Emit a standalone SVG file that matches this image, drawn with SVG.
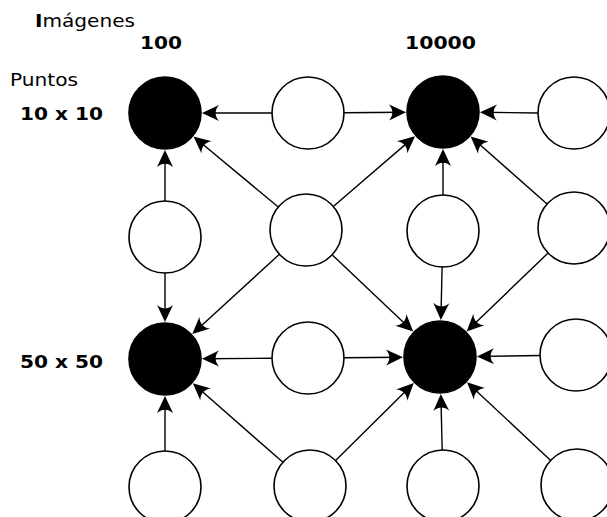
<svg xmlns="http://www.w3.org/2000/svg" width="607" height="517" viewBox="0 0 607 517">
<style>
  text { font-family: "DejaVu Sans", "Liberation Sans", sans-serif; font-size: 17.5px; fill: #000; }
  .b { font-weight: bold; }
  .white { fill: #fff; stroke: #000; stroke-width: 1.6; }
  .black { fill: #000; stroke: #000; stroke-width: 1.6; }
  .edge { stroke: #000; stroke-width: 1.4; fill: none; marker-end: url(#arr); }
</style>
<defs>
  <marker id="arr" markerUnits="userSpaceOnUse" orient="auto" refX="-3" refY="0" markerWidth="20" markerHeight="20" overflow="visible">
    <path d="M0,0 L-17,-8 C-12.5,-3 -12.5,3 -17,8 Z" fill="#000"/>
  </marker>
</defs>
<rect width="607" height="517" fill="#fff"/>
<g id="labels">
  <text x="35" y="27" textLength="100" lengthAdjust="spacingAndGlyphs"><tspan class="b">I</tspan>mágenes</text>
  <text class="b" x="140" y="49" textLength="42" lengthAdjust="spacingAndGlyphs">100</text>
  <text class="b" x="405" y="49" textLength="71" lengthAdjust="spacingAndGlyphs">10000</text>
  <text x="10" y="86" textLength="68" lengthAdjust="spacingAndGlyphs">Puntos</text>
  <text class="b" x="20" y="120" textLength="83" lengthAdjust="spacingAndGlyphs">10 x 10</text>
  <text class="b" x="20" y="368" textLength="83" lengthAdjust="spacingAndGlyphs">50 x 50</text>
</g>
<g id="connectors">
  <line class="edge" x1="272" y1="113" x2="205" y2="113"/>
  <line class="edge" x1="344" y1="112.7" x2="403" y2="112.3"/>
  <line class="edge" x1="538" y1="113" x2="483" y2="112.3"/>
  <line class="edge" x1="165" y1="201" x2="165" y2="153"/>
  <line class="edge" x1="165" y1="273" x2="165" y2="319"/>
  <line class="edge" x1="278.3" y1="207" x2="195.8" y2="138.5"/>
  <line class="edge" x1="333.3" y1="206.5" x2="412.7" y2="138.1"/>
  <line class="edge" x1="279.4" y1="254.3" x2="194.5" y2="332"/>
  <line class="edge" x1="332.1" y1="254.8" x2="411" y2="329.5"/>
  <line class="edge" x1="443" y1="195" x2="443" y2="152"/>
  <line class="edge" x1="442.1" y1="267" x2="440.95" y2="317"/>
  <line class="edge" x1="547.1" y1="204.1" x2="472.9" y2="138.5"/>
  <line class="edge" x1="548.1" y1="253" x2="468.8" y2="329.3"/>
  <line class="edge" x1="272" y1="358.3" x2="205" y2="358.7"/>
  <line class="edge" x1="344" y1="357.7" x2="400" y2="357.3"/>
  <line class="edge" x1="540" y1="355.5" x2="480" y2="356.4"/>
  <line class="edge" x1="165" y1="451" x2="165" y2="399"/>
  <line class="edge" x1="282.9" y1="462.3" x2="195.1" y2="385.3"/>
  <line class="edge" x1="335.6" y1="460.6" x2="411.6" y2="385.2"/>
  <line class="edge" x1="442.2" y1="450" x2="440.9" y2="397"/>
  <line class="edge" x1="550.7" y1="460.4" x2="469.2" y2="384.3"/>
</g>
<g id="A"><circle class="black" cx="165" cy="113" r="36"/></g>
<g id="B"><circle class="black" cx="443" cy="112" r="36"/></g>
<g id="C"><circle class="black" cx="165" cy="359" r="36"/></g>
<g id="D"><circle class="black" cx="440" cy="357" r="36"/></g>
<g id="w1"><circle class="white" cx="308" cy="113" r="36"/></g>
<g id="w2"><circle class="white" cx="574" cy="113" r="36"/></g>
<g id="w3"><circle class="white" cx="165" cy="237" r="36"/></g>
<g id="w4"><circle class="white" cx="306" cy="230" r="36"/></g>
<g id="w5"><circle class="white" cx="443" cy="231" r="36"/></g>
<g id="w6"><circle class="white" cx="574" cy="228" r="36"/></g>
<g id="w7"><circle class="white" cx="308" cy="358" r="36"/></g>
<g id="w8"><circle class="white" cx="576" cy="355" r="36"/></g>
<g id="w9"><circle class="white" cx="165" cy="487" r="36"/></g>
<g id="w10"><circle class="white" cx="310" cy="486" r="36"/></g>
<g id="w11"><circle class="white" cx="443" cy="486" r="36"/></g>
<g id="w12"><circle class="white" cx="577" cy="485" r="36"/></g>
</svg>
